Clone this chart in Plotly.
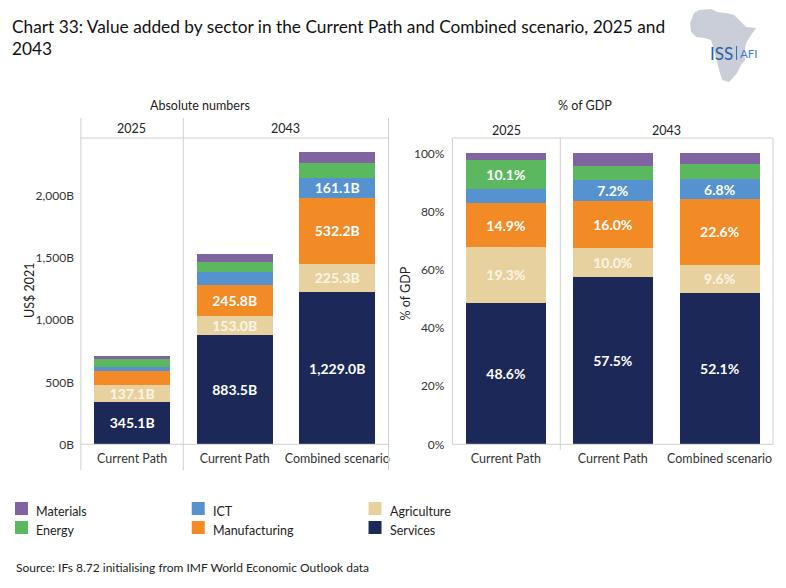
import plotly.graph_objects as go

# ---------------- data ----------------
categories = ["Current Path", "Current Path", "Combined scenario"]
years = ["2025", "2043", "2043"]
sectors = ["Services", "Agriculture", "Manufacturing", "ICT", "Energy", "Materials"]

# Absolute values, US$ 2021 billions
abs_services = [345.1, 883.5, 1229.0]
abs_agriculture = [137.1, 153.0, 225.3]
abs_manufacturing = [105.8, 245.8, 532.2]
abs_ict = [34.8, 110.6, 161.1]
abs_energy = [71.7, 76.8, 122.7]
abs_materials = [15.6, 66.1, 87.3]

# Share of GDP, %
pct_services = [48.6, 57.5, 52.1]
pct_agriculture = [19.3, 10.0, 9.6]
pct_manufacturing = [14.9, 16.0, 22.6]
pct_ict = [4.9, 7.2, 6.8]
pct_energy = [10.1, 5.0, 5.2]
pct_materials = [2.2, 4.3, 3.7]

abs_tickvals = [0, 500, 1000, 1500, 2000]
abs_ticktext = ["0B", "500B", "1,000B", "1,500B", "2,000B"]
pct_tickvals = [0, 20, 40, 60, 80, 100]
pct_ticktext = ["0%", "20%", "40%", "60%", "80%", "100%"]

# which segments carry a value label
abs_labelled = {"Services": [1, 1, 1], "Agriculture": [1, 1, 1], "Manufacturing": [0, 1, 1],
                "ICT": [0, 0, 1], "Energy": [0, 0, 0], "Materials": [0, 0, 0]}
pct_labelled = {"Services": [1, 1, 1], "Agriculture": [1, 1, 1], "Manufacturing": [1, 1, 1],
                "ICT": [0, 1, 1], "Energy": [1, 0, 0], "Materials": [0, 0, 0]}

abs_values = {"Services": abs_services, "Agriculture": abs_agriculture,
              "Manufacturing": abs_manufacturing, "ICT": abs_ict,
              "Energy": abs_energy, "Materials": abs_materials}
pct_values = {"Services": pct_services, "Agriculture": pct_agriculture,
              "Manufacturing": pct_manufacturing, "ICT": pct_ict,
              "Energy": pct_energy, "Materials": pct_materials}

colors = {"Services": "#1b2858", "Agriculture": "#e7d29f", "Manufacturing": "#f28a26",
          "ICT": "#5592cf", "Energy": "#5cb85f", "Materials": "#8064a2"}
label_colors = {"Agriculture": "#fbf5e6"}

W, H = 786, 588
FIG_H = 595
def px(x):
    return x / W
def py(y):
    return 1 - y / H

FONT = "Lato"
xs = list(range(len(categories)))

fig = go.Figure()

def add_bars(values, labelled, fmt, width, xa, ya):
    for s in sectors:
        fig.add_trace(go.Bar(
            x=xs, y=values[s], name=s, marker=dict(color=colors[s], line=dict(width=0)),
            width=width,
            text=[fmt(v) if l else "" for v, l in zip(values[s], labelled[s])],
            textposition="inside", insidetextanchor="middle", constraintext="none",
            textfont=dict(color=label_colors.get(s, "white"), size=14, family=FONT),
            texttemplate="<b>%{text}</b>",
            showlegend=False, xaxis=xa, yaxis=ya, hoverinfo="skip"))

add_bars(abs_values, abs_labelled, lambda v: f"{v:,.1f}B", 0.74, "x", "y")
add_bars(pct_values, pct_labelled, lambda v: f"{v:.1f}%", 0.75, "x2", "y2")

L0, L1 = 81, 389
R0, R1 = 453, 774
T, B = 138, 444.3

tickfont = dict(family=FONT, size=12, color="#333333")
fig.update_layout(
    width=W, height=FIG_H, margin=dict(l=0, r=0, t=0, b=0),
    paper_bgcolor="white", plot_bgcolor="white",
    barmode="stack",
    font=dict(family=FONT, color="#222222"),
    xaxis=dict(domain=[px(L0), px(L1)], range=[-0.5, 2.5], tickvals=xs, ticktext=categories,
               tickfont=dict(family=FONT, size=12.5, color="#333333"), showgrid=False,
               zeroline=False, showline=False, ticks="", ticklabelstandoff=5),
    yaxis=dict(domain=[py(B), py(T)], range=[0, 2470], tickvals=abs_tickvals,
               ticktext=abs_ticktext, tickfont=tickfont, showgrid=False,
               zeroline=False, showline=False, ticks="", anchor="x", ticklabelstandoff=6),
    xaxis2=dict(domain=[px(R0), px(R1)], range=[-0.5, 2.5], tickvals=xs, ticktext=categories,
                tickfont=dict(family=FONT, size=12.5, color="#333333"), showgrid=False,
                zeroline=False, showline=False, ticks="", anchor="y2", ticklabelstandoff=5),
    yaxis2=dict(domain=[py(B), py(T)], range=[0, 105.3], tickvals=pct_tickvals,
                ticktext=pct_ticktext, tickfont=tickfont, showgrid=False, zeroline=False,
                showline=False, ticks="", anchor="x2", ticklabelstandoff=7),
)

line = dict(color="#d0d0d0", width=1)
shapes = []
# left panel frame
for xx in [L0, 183.5, L1]:
    shapes.append(dict(type="line", xref="paper", yref="paper", x0=px(xx), x1=px(xx),
                       y0=py(118), y1=py(470), line=line))
for yy in [T, B]:
    shapes.append(dict(type="line", xref="paper", yref="paper", x0=px(L0), x1=px(L1),
                       y0=py(yy), y1=py(yy), line=line))
# right panel frame
for xx, yb in [(R0, B), (561, 450), (R1, B)]:
    shapes.append(dict(type="line", xref="paper", yref="paper", x0=px(xx), x1=px(xx),
                       y0=py(T), y1=py(yb), line=line))
for yy in [T, B]:
    shapes.append(dict(type="line", xref="paper", yref="paper", x0=px(R0), x1=px(R1),
                       y0=py(yy), y1=py(yy), line=line))

# logo: rough Africa silhouette
africa = [(695, 13), (700, 10), (712, 9), (718, 12), (727, 13), (735, 15), (740, 20),
          (747, 27), (757, 28), (752, 35), (747, 43), (745, 53), (746, 60), (742, 65),
          (738, 73), (730, 82), (723, 80), (720, 70), (717, 58), (712, 40), (705, 38),
          (697, 37), (692, 32), (691, 23)]
path = "M " + " L ".join(f"{px(a):.5f},{py(b):.5f}" for a, b in africa) + " Z"
shapes.append(dict(type="path", xref="paper", yref="paper", path=path,
                   fillcolor="#c9ced8", line=dict(width=0), layer="below"))
shapes.append(dict(type="line", xref="paper", yref="paper", x0=px(737.5), x1=px(737.5),
                   y0=py(46), y1=py(60), line=dict(color="#2e6db4", width=1)))

annotations = []
def ann(text, x, y, size=12, color="#222222", xanchor="center", textangle=0, family=FONT):
    annotations.append(dict(text=text, x=px(x), y=py(y), xref="paper", yref="paper",
                            showarrow=False, xanchor=xanchor, yanchor="middle",
                            textangle=textangle, font=dict(family=family, size=size, color=color)))

ann("Chart 33: Value added by sector in the Current Path and Combined scenario, 2025 and<br>2043",
    10, 37, size=17.3, color="#111111", xanchor="left")
annotations[-1]["align"] = "left"
ann("Absolute numbers", 200, 105, size=12.5)
ann("% of GDP", 586, 105, size=12.5)
ann("2025", 132, 129, size=12.5)
ann("2043", 286, 129, size=12.5)
ann("2025", 507, 131, size=12.5)
ann("2043", 667, 131, size=12.5)
ann("US$ 2021", 29, 290, size=12.5, textangle=-90)
ann("% of GDP", 407, 293, size=12.5, textangle=-90)

# logo text
ann("ISS", 736, 53, size=17, color="#2a5ea8", xanchor="right")
ann("AFI", 739, 53, size=11.5, color="#3b7cc4", xanchor="left")

# legend
legend_items = [("Materials", 15, 509), ("Energy", 15, 528),
                ("ICT", 192, 509), ("Manufacturing", 192, 528),
                ("Agriculture", 369, 509), ("Services", 369, 528)]
for name, lx, ly in legend_items:
    shapes.append(dict(type="rect", xref="paper", yref="paper", x0=px(lx), x1=px(lx + 13),
                       y0=py(ly + 6), y1=py(ly - 7), fillcolor=colors[name], line=dict(width=0)))
    ann(name, lx + 19, ly + 2, size=12.5, color="#222222", xanchor="left")

ann("Source: IFs 8.72 initialising from IMF World Economic Outlook data", 14, 567,
    size=12, color="#222222", xanchor="left")

fig.update_layout(shapes=shapes, annotations=annotations)
post = ("document.documentElement.style.margin='0';document.body.style.margin='0';"
        "document.documentElement.style.overflow='hidden';document.body.style.overflow='hidden';")
fig.write_html("out.html", post_script=post, config={"displayModeBar": False})
